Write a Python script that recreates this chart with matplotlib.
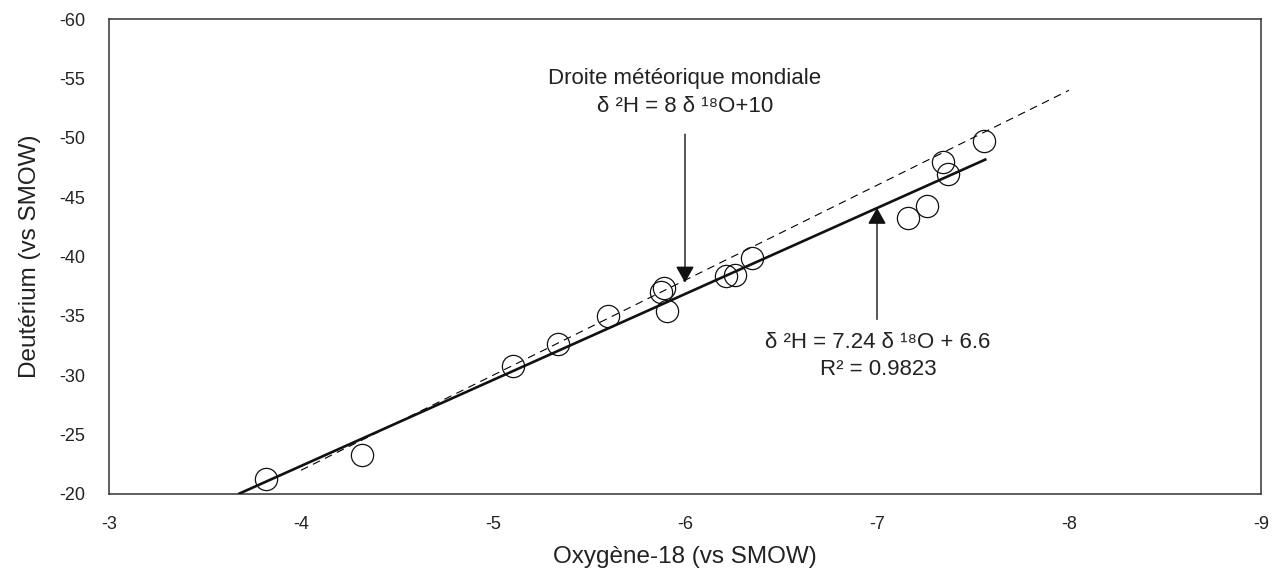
import matplotlib
matplotlib.use("Agg")
import matplotlib.pyplot as plt
import numpy as np

plt.rcParams['font.family'] = ['Liberation Sans', 'DejaVu Sans']

# Data
oxygen18 = [-3.818, -4.316, -5.103, -5.340, -5.600, -5.876, -5.891, -5.908,
            -6.214, -6.260, -6.347, -7.163, -7.259, -7.345, -7.371, -7.557]
deuterium = [-21.24, -23.29, -30.80, -32.63, -35.02, -37.00, -37.38, -35.38,
             -38.34, -38.48, -39.89, -43.27, -44.24, -47.96, -46.92, -49.73]

gmwl_slope, gmwl_intercept = 8.0, 10.0
gmwl_x = [-4.0, -8.0]
fit_slope, fit_intercept = 7.24, 6.6
fit_x = [-3.674, -7.57]

xticks = [-3, -4, -5, -6, -7, -8, -9]
yticks = [-20, -25, -30, -35, -40, -45, -50, -55, -60]

W, H = 1276, 575
fig = plt.figure(figsize=(W/100, H/100), dpi=100)
ax = fig.add_axes([109/W, 1-494/H, (1261-109)/W, (494-19)/H])

ax.set_xlim(-3, -9)
ax.set_ylim(-20, -60)

gx = np.array(gmwl_x)
ax.plot(gx, gmwl_slope*gx + gmwl_intercept, color='black', lw=0.8,
        dashes=(7, 5), zorder=2)
fx = np.array(fit_x)
ax.plot(fx, fit_slope*fx + fit_intercept, color='#111111', lw=1.9,
        solid_capstyle='butt', zorder=3)
ax.plot(oxygen18, deuterium, linestyle='none', marker='o', markersize=16,
        markerfacecolor='none', markeredgecolor='#111111', markeredgewidth=0.9,
        zorder=4)

ax.set_xticks(xticks)
ax.set_xticklabels([str(t) for t in xticks])
ax.set_yticks(yticks)
ax.set_yticklabels([str(t) for t in yticks])
ax.tick_params(length=0, labelsize=13, colors='#222222')
ax.tick_params(axis='x', pad=16)
ax.tick_params(axis='y', pad=17)
for s in ax.spines.values():
    s.set_linewidth(1.1)
    s.set_color('#333333')

ax.set_xlabel('Oxygène-18 (vs SMOW)', fontsize=17.5, color='#222222', labelpad=9)
ax.set_ylabel('Deutérium (vs SMOW)', fontsize=17.5, color='#222222', labelpad=13)

arrow_style = '-|>,head_length=0.5,head_width=0.28'
ax.annotate('', xy=(-6.0, -37.8), xytext=(-6.0, -50.3),
            arrowprops=dict(arrowstyle=arrow_style, mutation_scale=20,
                            color='#111111', lw=1.0, shrinkA=0, shrinkB=0))
ax.text(-6.0, -55.0, 'Droite météorique mondiale', ha='center', va='center',
        fontsize=16, color='#222222')
ax.text(-6.0, -52.65, 'δ ²H = 8 δ ¹⁸O+10', ha='center', va='center',
        fontsize=16, color='#222222')

ax.annotate('', xy=(-7.0, -44.1), xytext=(-7.0, -34.7),
            arrowprops=dict(arrowstyle=arrow_style, mutation_scale=20,
                            color='#111111', lw=1.0, shrinkA=0, shrinkB=0))
ax.text(-7.005, -32.75, 'δ ²H = 7.24 δ ¹⁸O + 6.6', ha='center', va='center',
        fontsize=16, color='#222222')
ax.text(-7.005, -30.45, 'R² = 0.9823', ha='center', va='center',
        fontsize=16, color='#222222')

fig.savefig('out.png', dpi=100)
